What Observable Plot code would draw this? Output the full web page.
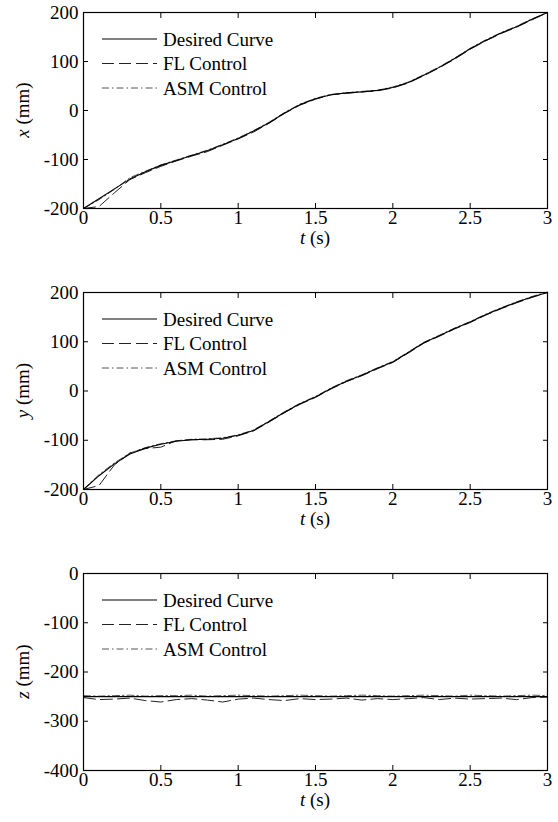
<!DOCTYPE html>
<html><head><meta charset="utf-8">
<script src="https://cdn.jsdelivr.net/npm/d3@7"></script>
<script src="https://cdn.jsdelivr.net/npm/@observablehq/plot@0.6"></script>
<style>
body{margin:0;background:#fff;}
#chart svg{display:block;}
#chart svg, #chart svg text{font-family:"Liberation Serif","Times New Roman",Times,"DejaVu Serif",serif !important;}
</style></head><body><div id="chart"></div>
<script>
const time = [0,0.1,0.2,0.3,0.4,0.5,0.6,0.7,0.8,0.9,1.0,1.1,1.2,1.3,1.4,1.5,1.6,1.7,1.8,1.9,2.0,2.1,2.2,2.3,2.4,2.5,2.6,2.7,2.8,2.9,3.0];

const xDesired = [-200,-180,-160,-140,-125,-112,-102,-92,-82,-70,-57,-42,-25,-5,12,24,32,36,38,41,47,57,72,88,106,126,143,158,171,186,200];
const xFL      = [-200,-196,-168,-141,-127,-114,-103,-93,-84,-71,-58,-44,-26,-6,11,23,32,35,38,40,46,56,71,87,105,125,142,157,170,185,200];
const xASM     = [-200,-182,-161,-137,-124,-111,-101,-91,-81,-69,-56,-41,-24,-4,13,25,33,36,39,41,48,58,73,89,107,127,144,159,172,187,200];

const yDesired = [-200,-172,-148,-128,-116,-108,-102,-99,-98,-96,-90,-80,-62,-43,-26,-12,5,20,32,46,59,78,98,112,127,140,155,168,180,191,200];
const yFL      = [-200,-192,-150,-126,-117,-114,-101,-99,-99,-98,-91,-81,-63,-44,-27,-13,4,19,31,45,58,77,97,111,126,139,154,167,179,190,200];
const yASM     = [-200,-170,-146,-126,-115,-107,-101,-98,-97,-95,-89,-79,-61,-42,-25,-11,6,21,33,47,60,79,99,113,128,141,156,169,181,192,201];

const zDesired = [-250,-250,-250,-250,-250,-250,-250,-250,-250,-250,-250,-250,-250,-250,-250,-250,-250,-250,-250,-250,-250,-250,-250,-250,-250,-250,-250,-250,-250,-250,-250];
const zFL      = [-252,-256,-255,-253,-258,-261,-256,-254,-257,-261,-255,-253,-256,-258,-254,-256,-255,-253,-257,-254,-256,-254,-252,-256,-253,-255,-254,-253,-256,-252,-251];
const zASM     = [-248,-249,-248,-247,-249,-248,-248,-247,-249,-248,-247,-248,-249,-248,-247,-248,-249,-248,-247,-248,-249,-248,-247,-248,-249,-247,-248,-249,-248,-247,-248];

const xTicks = [0,0.5,1,1.5,2,2.5,3];
const xyTicks = [-200,-100,0,100,200];
const zTicks = [-400,-300,-200,-100,0];
const legendLabels = ["Desired Curve","FL Control","ASM Control"];
const varNames = ["x","y","z"];

const W = 558, ML = 83, MR = 11;
const FONT = "'Liberation Serif', 'Times New Roman', Times, 'DejaVu Serif', serif";

function panel(varName, desired, fl, asm, domain, ticks, mt, innerH, mb) {
  const mk = arr => time.map((t, i) => ({t, v: arr[i]}));
  const axisCommon = {tickSize: -5, stroke: "#000"};
  const p = Plot.plot({
    width: W, height: mt + innerH + mb,
    marginLeft: ML, marginRight: MR, marginTop: mt, marginBottom: mb,
    style: {fontFamily: FONT, fontSize: "19px", background: "#fff", color: "#000"},
    x: {domain: [0, 3]},
    y: {domain},
    marks: [
      Plot.line(mk(asm), {x: "t", y: "v", stroke: "#555", strokeWidth: 1, strokeDasharray: "7,3,1.5,3"}),
      Plot.line(mk(fl), {x: "t", y: "v", stroke: "#222", strokeWidth: 1, strokeDasharray: "12,5"}),
      Plot.line(mk(desired), {x: "t", y: "v", stroke: "#000", strokeWidth: 1.1}),
      Plot.frame({stroke: "#000", strokeWidth: 1.2}),
      Plot.axisX(xTicks, {...axisCommon, anchor: "bottom", tickPadding: 7, tickFormat: d => String(d), label: null}),
      Plot.axisX(xTicks, {...axisCommon, anchor: "top", tickFormat: () => "", label: null}),
      Plot.axisY(ticks, {...axisCommon, anchor: "left", tickPadding: 10, tickFormat: d => String(d), label: null}),
      Plot.axisY(ticks, {...axisCommon, anchor: "right", tickFormat: () => "", label: null})
    ]
  });
  const svg = d3.select(p);
  // legend
  legendLabels.forEach((lab, i) => {
    const y = mt + 27 + i * 24.5;
    const dash = [null, "12,5", "7,3,1.5,3"][i];
    const col = ["#000", "#222", "#555"][i];
    const ln = svg.append("line").attr("x1", ML + 19).attr("x2", ML + 74).attr("y1", y).attr("y2", y)
      .attr("stroke", col).attr("stroke-width", 1);
    if (dash) ln.attr("stroke-dasharray", dash);
    svg.append("text").attr("x", ML + 80).attr("y", y).attr("dy", "0.35em").attr("text-anchor", "start")
      .attr("font-family", FONT).attr("font-size", 19).attr("fill", "#000").text(lab);
  });
  // x label
  const xl = svg.append("text").attr("x", ML + (W - ML - MR) / 2).attr("y", mt + innerH + 29)
    .attr("dy", "0.35em").attr("text-anchor", "middle").attr("font-family", FONT).attr("font-size", 19);
  xl.append("tspan").attr("font-style", "italic").text("t");
  xl.append("tspan").text(" (s)");
  // y label
  const yl = svg.append("text").attr("transform", `translate(22,${mt + innerH / 2}) rotate(-90)`)
    .attr("dy", "0.35em").attr("text-anchor", "middle").attr("font-family", FONT).attr("font-size", 19);
  yl.append("tspan").attr("font-style", "italic").text(varName);
  yl.append("tspan").text(" (mm)");
  return p;
}

const root = document.getElementById("chart");
root.appendChild(panel(varNames[0], xDesired, xFL, xASM, [-200, 200], xyTicks, 12, 196, 72));
root.appendChild(panel(varNames[1], yDesired, yFL, yASM, [-200, 200], xyTicks, 12, 197, 71));
root.appendChild(panel(varNames[2], zDesired, zFL, zASM, [-400, 0], zTicks, 13, 197, 52));
</script></body></html>
